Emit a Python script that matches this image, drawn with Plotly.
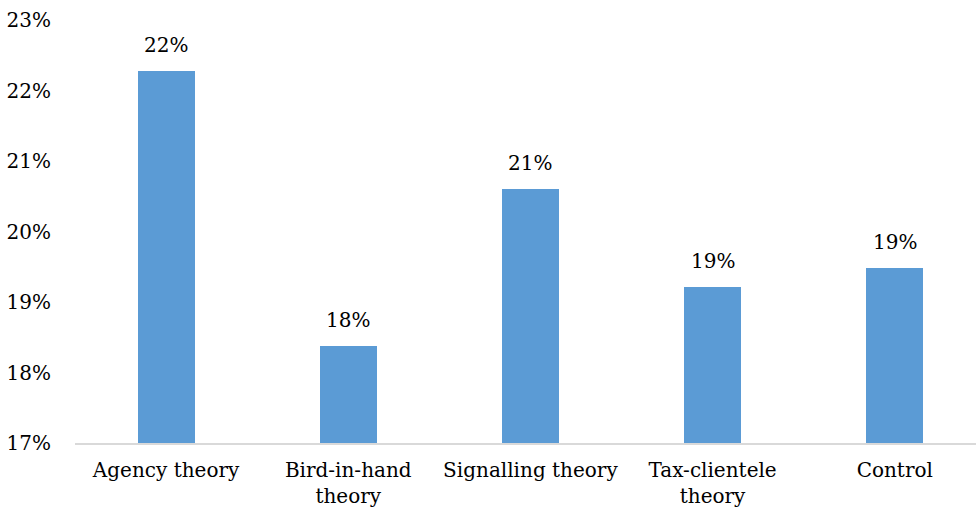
import plotly.graph_objects as go

categories = ["Agency theory", "Bird-in-hand<br>theory", "Signalling theory", "Tax-clientele<br>theory", "Control"]
values = [22.27, 18.38, 20.61, 19.21, 19.48]
axis_floor = 17
tick_vals = [17, 18, 19, 20, 21, 22, 23]
tick_text = ["17%", "18%", "19%", "20%", "21%", "22%", "23%"]

font_family = "DejaVu Serif"
fsize = 20

fig = go.Figure()
fig.add_trace(go.Bar(
    x=categories, y=[v - axis_floor for v in values], base=axis_floor, width=0.313,
    marker=dict(color="#5B9BD5", line=dict(width=0)),
))

for c, v in zip(categories, values):
    fig.add_annotation(x=c, y=v, text=f"{round(v):.0f}%", showarrow=False,
                       yanchor="bottom", yshift=12,
                       font=dict(family=font_family, size=fsize, color="#000"))

fig.update_layout(
    width=976, height=512,
    margin=dict(l=75, r=0, t=20, b=69),
    paper_bgcolor="white", plot_bgcolor="white",
    showlegend=False,
    font=dict(family=font_family, size=fsize, color="#000"),
    bargap=0,
)
fig.update_xaxes(range=[-0.5, 4.446], showline=True, linecolor="#d9d9d9", linewidth=2,
                 ticks="", showgrid=False, tickfont=dict(family=font_family, size=fsize),
                 ticklabelstandoff=8)
fig.update_yaxes(range=[17, 23], tickvals=tick_vals, ticktext=tick_text, showgrid=False,
                 zeroline=False, showline=False, ticks="", ticklabelstandoff=23,
                 tickfont=dict(family=font_family, size=fsize))

fig.write_html("out.html")
